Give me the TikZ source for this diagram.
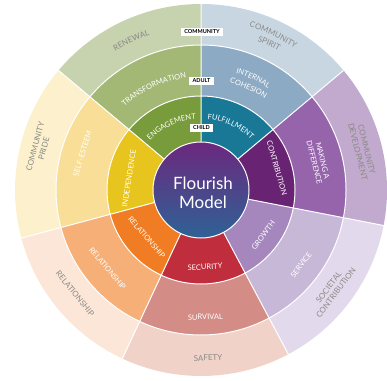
\documentclass[tikz,border=0pt]{standalone}
\usepackage{fontspec}
\setmainfont{Lato}
\usepackage{tikz}
\usetikzlibrary{decorations.text}
% community ring
\definecolor{OUTGREEN}{HTML}{C7D2AF}
\definecolor{OUTBLUE}{HTML}{C8D6E2}
\definecolor{OUTPURPLE}{HTML}{C1AACD}
\definecolor{OUTLILAC}{HTML}{E2DAEC}
\definecolor{OUTRED}{HTML}{F0D2C8}
\definecolor{OUTORANGE}{HTML}{FCE6D7}
\definecolor{OUTYELLOW}{HTML}{FCF0CD}
% adult ring
\definecolor{MIDGREEN}{HTML}{A3B875}
\definecolor{MIDBLUE}{HTML}{8CAAC3}
\definecolor{MIDPURPLE}{HTML}{9664AA}
\definecolor{MIDLILAC}{HTML}{C8B8D8}
\definecolor{MIDRED}{HTML}{D48C87}
\definecolor{MIDORANGE}{HTML}{F7AF78}
\definecolor{MIDYELLOW}{HTML}{F8DE96}
% child ring
\definecolor{INGREEN}{HTML}{789B3C}
\definecolor{INBLUE}{HTML}{197896}
\definecolor{INPURPLE}{HTML}{692373}
\definecolor{INLILAC}{HTML}{A587BE}
\definecolor{INRED}{HTML}{C02D3C}
\definecolor{INORANGE}{HTML}{F07D23}
\definecolor{INYELLOW}{HTML}{E8C41E}
% centre and text
\definecolor{CORETOP}{HTML}{6C287E}
\definecolor{COREMID}{HTML}{563C8A}
\definecolor{COREBOT}{HTML}{2E6296}
\definecolor{TEXTGREY}{HTML}{8A8A86}
\newcommand{\ringfont}{\fontsize{7.5}{8.5}\selectfont}
\newcommand{\rimfont}{\fontsize{8}{9}\selectfont}
\tikzset{
    sep/.style={white, line width=1pt},
    ringlabel/.style={white, font=\ringfont, align=center},
    rimlabel/.style={TEXTGREY, font=\rimfont, align=center},
    agebox/.style={fill=white, text=black, font=\fontsize{5.5}{6}\selectfont\bfseries, inner xsep=3.5pt, inner ysep=2.2pt},
}

\begin{document}
\begin{tikzpicture}[x=1pt, y=1pt]
    \useasboundingbox (0,0) rectangle (387,380);
    \begin{scope}[shift={(201,190)}]
    % community ring
    \fill[OUTGREEN] (0,0) -- (90:186) arc[start angle=90, end angle=140, radius=186] -- cycle;
    \fill[OUTBLUE] (0,0) -- (40:186) arc[start angle=40, end angle=90, radius=186] -- cycle;
    \fill[OUTPURPLE] (0,0) -- (-11:186) arc[start angle=-11, end angle=40, radius=186] -- cycle;
    \fill[OUTLILAC] (0,0) -- (-62:186) arc[start angle=-62, end angle=-11, radius=186] -- cycle;
    \fill[OUTRED] (0,0) -- (-115:186) arc[start angle=-115, end angle=-62, radius=186] -- cycle;
    \fill[OUTORANGE] (0,0) -- (-165:186) arc[start angle=-165, end angle=-115, radius=186] -- cycle;
    \fill[OUTYELLOW] (0,0) -- (140:186) arc[start angle=140, end angle=195, radius=186] -- cycle;
    % adult ring
    \fill[MIDGREEN] (0,0) -- (90:145) arc[start angle=90, end angle=140, radius=145] -- cycle;
    \fill[MIDBLUE] (0,0) -- (40:145) arc[start angle=40, end angle=90, radius=145] -- cycle;
    \fill[MIDPURPLE] (0,0) -- (-11:145) arc[start angle=-11, end angle=40, radius=145] -- cycle;
    \fill[MIDLILAC] (0,0) -- (-62:145) arc[start angle=-62, end angle=-11, radius=145] -- cycle;
    \fill[MIDRED] (0,0) -- (-115:145) arc[start angle=-115, end angle=-62, radius=145] -- cycle;
    \fill[MIDORANGE] (0,0) -- (-165:145) arc[start angle=-165, end angle=-115, radius=145] -- cycle;
    \fill[MIDYELLOW] (0,0) -- (140:145) arc[start angle=140, end angle=195, radius=145] -- cycle;
    % child ring
    \fill[INGREEN] (0,0) -- (90:94) arc[start angle=90, end angle=140, radius=94] -- cycle;
    \fill[INBLUE] (0,0) -- (40:94) arc[start angle=40, end angle=90, radius=94] -- cycle;
    \fill[INPURPLE] (0,0) -- (-11:94) arc[start angle=-11, end angle=40, radius=94] -- cycle;
    \fill[INLILAC] (0,0) -- (-62:94) arc[start angle=-62, end angle=-11, radius=94] -- cycle;
    \fill[INRED] (0,0) -- (-115:94) arc[start angle=-115, end angle=-62, radius=94] -- cycle;
    \fill[INORANGE] (0,0) -- (-165:94) arc[start angle=-165, end angle=-115, radius=94] -- cycle;
    \fill[INYELLOW] (0,0) -- (140:94) arc[start angle=140, end angle=195, radius=94] -- cycle;
    %
    \draw[sep] (0,0) circle (94) (0,0) circle (145);
    \draw[sep] (40:48) -- (40:186) (90:48) -- (90:186) (140:48) -- (140:186) (195:48) -- (195:186);
    \draw[sep] (-115:48) -- (-115:186) (-62:48) -- (-62:186) (-11:48) -- (-11:186);
    %
    \shade[top color=CORETOP, middle color=COREMID, bottom color=COREBOT] (0,0) circle (48);
    \draw[sep] (0,0) circle (48);
    \node[white, align=center, font=\fontsize{17}{19}\selectfont] (title) at (2,-2.5) {Flourish\\Model};
    %
    % child labels
    \path[decorate, decoration={text along path, text align=center, text={|\ringfont\color{white}|ENGAGEMENT}}] (140:71) arc[start angle=140, end angle=90, radius=71];
    \path[decorate, decoration={text along path, text align=center, text={|\ringfont\color{white}|FULFILLMENT}}] (90:71) arc[start angle=90, end angle=40, radius=71];
    \node[ringlabel, rotate=-74] (contribution) at (16:79) {CONTRIBUTION};
    \node[ringlabel, rotate=54] (growth) at (-36:77) {GROWTH};
    \node[ringlabel, rotate=3] (security) at (-87:77) {SECURITY};
    \node[ringlabel, rotate=-49] (relationin) at (221:72) {RELATIONSHIP};
    \node[ringlabel, rotate=81] (independence) at (171:73) {INDEPENDENCE};
    %
    % adult labels
    \path[decorate, decoration={text along path, text align=center, text={|\ringfont\color{white}|TRANSFORMATION}}] (140:113) arc[start angle=140, end angle=90, radius=113];
    \path[decorate, decoration={text along path, text align=center, text={|\ringfont\color{white}|INTERNAL}}] (90:122) arc[start angle=90, end angle=40, radius=122];
    \path[decorate, decoration={text along path, text align=center, text={|\ringfont\color{white}|COHESION}}] (90:111) arc[start angle=90, end angle=40, radius=111];
    \node[ringlabel, rotate=-76] (difference) at (13.6:121) {MAKING A\\DIFFERENCE};
    \node[ringlabel, rotate=53] (service) at (-36.8:125) {SERVICE};
    \node[ringlabel, rotate=2] (survival) at (-88:127) {SURVIVAL};
    \node[ringlabel, rotate=-50] (relationmid) at (220:122) {RELATIONSHIP};
    \node[ringlabel, rotate=73] (selfesteem) at (163:124) {SELF-ESTEEM};
    %
    % community labels
    \path[decorate, decoration={text along path, text align=center, text={|\rimfont\color{TEXTGREY}|RENEWAL}}] (140:163) arc[start angle=140, end angle=90, radius=163];
    \path[decorate, decoration={text along path, text align=center, text={|\rimfont\color{TEXTGREY}|COMMUNITY}}] (90:170) arc[start angle=90, end angle=40, radius=170];
    \path[decorate, decoration={text along path, text align=center, text={|\rimfont\color{TEXTGREY}|SPIRIT}}] (90:159) arc[start angle=90, end angle=40, radius=159];
    \node[rimlabel, rotate=-76] (development) at (13.7:166) {COMMUNITY\\DEVELOPMENT};
    \node[rimlabel, rotate=53] (societal) at (-37.3:165) {SOCIETAL\\CONTRIBUTION};
    \node[rimlabel, rotate=2] (safety) at (-87.6:168) {SAFETY};
    \node[rimlabel, rotate=-51] (relationout) at (219.4:163) {RELATIONSHIP};
    \node[rimlabel, rotate=75] (pride) at (165.3:167) {COMMUNITY\\PRIDE};
    %
    % age boxes
    \node[agebox] (community) at (1,158) {COMMUNITY};
    \node[agebox] (adult) at (0.5,109) {ADULT};
    \node[agebox] (child) at (0.5,62) {CHILD};
    \end{scope}
\end{tikzpicture}
\end{document}
